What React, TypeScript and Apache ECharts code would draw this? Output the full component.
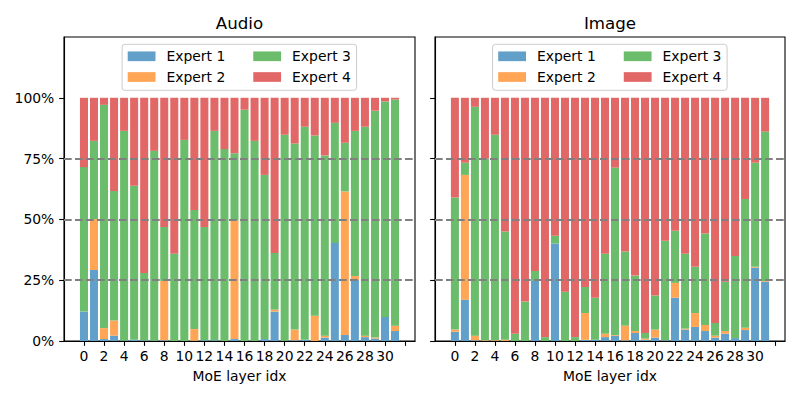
import React, { useEffect, useRef } from "react";
import * as echarts from "echarts";

const layers = [0, 1, 2, 3, 4, 5, 6, 7, 8, 9, 10, 11, 12, 13, 14, 15, 16, 17, 18, 19, 20, 21, 22, 23, 24, 25, 26, 27, 28, 29, 30, 31];
const expertNames = ["Expert 1", "Expert 2", "Expert 3", "Expert 4"];
const panelTitles = ["Audio", "Image"];

// Audio panel shares (%)
const audioE1 = [12.1, 29.2, 0.8, 2.2, 0.2, 0.5, 0.3, 0.1, 0.3, 0, 0, 0.1, 0.3, 0.3, 0, 0.8, 0, 0, 0.8, 12.1, 0.1, 0.3, 0.5, 0, 1.4, 40.3, 2.5, 25.1, 1.6, 1.0, 9.9, 4.1];
const audioE2 = [0, 20.9, 4.5, 6.2, 0, 0, 0, 0, 24.4, 0, 0, 4.8, 0, 0, 0, 48.7, 0, 0, 0, 0.8, 0, 4.4, 0, 10.4, 0.8, 0, 59.0, 1.6, 0.6, 0.4, 0, 2.2];
const audioE3 = [59.4, 32.2, 91.8, 53.3, 86.2, 63.3, 27.7, 78.1, 22.2, 35.9, 82.7, 49.0, 46.6, 86.1, 78.9, 27.7, 95.1, 82.3, 67.5, 23.3, 84.7, 76.5, 87.6, 74.1, 74.1, 49.4, 20.0, 59.7, 85.9, 93.3, 88.6, 93.0];
const audioE4 = [28.5, 17.7, 2.9, 38.3, 13.6, 36.2, 72.0, 21.8, 53.1, 64.1, 17.3, 46.1, 53.1, 13.6, 21.1, 22.8, 4.9, 17.7, 31.7, 63.8, 15.2, 18.8, 11.9, 15.5, 23.7, 10.3, 18.5, 13.6, 11.9, 5.3, 1.5, 0.7];

// Image panel shares (%)
const imageE1 = [3.8, 17.0, 0.3, 0, 0, 0, 0, 0, 24.7, 0, 40.1, 0, 0, 0.5, 0.5, 1.6, 2.2, 0.3, 3.3, 0.5, 1.4, 0.3, 17.8, 4.7, 5.8, 4.1, 1.4, 3.0, 1.2, 4.5, 30.2, 24.4];
const imageE2 = [0.9, 51.3, 1.9, 0.3, 0.3, 0.5, 0, 0, 0, 0, 0, 0, 0, 11.0, 0, 1.4, 0.3, 6.0, 0.8, 0.5, 3.3, 0, 6.1, 0.4, 5.7, 2.5, 0.8, 1.1, 0, 0.9, 0.3, 0.3];
const imageE3 = [54.3, 5.0, 94.1, 74.7, 84.5, 44.5, 3.0, 16.2, 4.1, 1.6, 3.2, 20.3, 1.6, 10.7, 17.3, 32.9, 68.8, 30.5, 22.8, 2.3, 14.0, 40.9, 21.4, 30.8, 19.0, 37.6, 5.2, 20.3, 33.8, 53.0, 42.8, 61.4];
const imageE4 = [41.0, 26.7, 3.7, 25.0, 15.2, 55.0, 97.0, 83.8, 71.2, 98.4, 56.7, 79.7, 98.4, 77.8, 82.2, 64.1, 28.7, 63.2, 73.1, 96.7, 81.3, 58.8, 54.7, 64.1, 69.5, 55.8, 92.6, 75.6, 65.0, 41.6, 26.7, 13.9];

const xTickValues = [0, 2, 4, 6, 8, 10, 12, 14, 16, 18, 20, 22, 24, 26, 28, 30, 32];
const xLabelValues = [0, 2, 4, 6, 8, 10, 12, 14, 16, 18, 20, 22, 24, 26, 28, 30];
const yTickValues = [0, 25, 50, 75, 100];
const refLines = [25, 50, 75];

const colors = ["#62a0ca", "#ffa556", "#6bbc6b", "#e26868"];
const FONT = "DejaVu Sans";

export default function App() {
  const ref = useRef<HTMLDivElement>(null);
  useEffect(() => {
    if (!ref.current) return;
    const chart = echarts.init(ref.current, null, { renderer: "svg" });
    const panels = [
      [audioE1, audioE2, audioE3, audioE4],
      [imageE1, imageE2, imageE3, imageE4],
    ];
    const gridBoxes = [
      { left: 64, top: 37, width: 351, height: 304 },
      { left: 435, top: 37, width: 350, height: 304 },
    ];
    const series: any[] = [];
    panels.forEach((arrs, g) => {
      arrs.forEach((arr, k) => {
        const s: any = {
          type: "bar",
          name: expertNames[k],
          xAxisIndex: g,
          yAxisIndex: g,
          stack: "panel" + g,
          barWidth: 8.03,
          // value first so that the stacked dimension is the y value
          data: layers.map((x, i) => [arr[i], x]),
          encode: { x: 1, y: 0 },
          itemStyle: { color: colors[k] },
          emphasis: { disabled: true },
          silent: true,
        };
        if (k === 3) {
          s.markLine = {
            silent: true,
            symbol: ["none", "none"],
            label: { show: false },
            lineStyle: { color: "#808080", type: [7.7, 3.3], width: 2.1 },
            emphasis: { disabled: true },
            data: refLines.map((v) => ({ yAxis: v })),
            z: 10,
          };
        }
        series.push(s);
      });
    });

    const legendCommon = {
      orient: "horizontal",
      padding: 0,
      itemWidth: 27.8,
      itemHeight: 9.7,
      itemGap: 28,
      icon: "rect",
      selectedMode: false,
      textStyle: { fontFamily: FONT, fontSize: 13.9, color: "#000", lineHeight: 14, padding: [0, 0, 0, 6] },
    };
    const legends: any[] = [];
    gridBoxes.forEach((gb) => {
      const cx = gb.left + gb.width / 2;
      const lx = cx - 111.8;
      legends.push({ ...legendCommon, left: lx, top: 49.3, data: [expertNames[0], expertNames[2]] });
      legends.push({ ...legendCommon, left: lx, top: 70, data: [expertNames[1], expertNames[3]] });
    });

    const graphics: any[] = [];
    gridBoxes.forEach((gb, g) => {
      const cx = gb.left + gb.width / 2;
      graphics.push({
        type: "rect",
        z: 1,
        shape: { x: cx - 117.4, y: 44.3, width: 234.5, height: 46, r: 2.8 },
        style: { fill: "rgba(255,255,255,0.8)", stroke: "#cccccc", lineWidth: 1 },
      });
      graphics.push({
        type: "text",
        x: cx,
        y: 23.5,
        style: { text: panelTitles[g], font: `16.67px "${FONT}"`, fill: "#000", align: "center", verticalAlign: "middle" },
      });
    });

    chart.setOption({
      animation: false,
      textStyle: { fontFamily: FONT },
      grid: gridBoxes.map((gb) => ({ ...gb, show: true, borderColor: "#000", borderWidth: 1.1, backgroundColor: "transparent", containLabel: false })),
      xAxis: gridBoxes.map((_, g) => ({
        type: "value",
        gridIndex: g,
        min: -1.99,
        max: 32.99,
        z: 5,
        name: "MoE layer idx",
        nameLocation: "middle",
        nameGap: 28,
        nameTextStyle: { fontFamily: FONT, fontSize: 13.9, color: "#000" },
        axisLine: { show: true, onZero: false, lineStyle: { color: "#000", width: 1.1 } },
        axisTick: { show: true, length: 4.86, lineStyle: { color: "#000", width: 1.1 }, customValues: xTickValues },
        axisLabel: { show: true, margin: 8, fontFamily: FONT, fontSize: 13.9, color: "#000", customValues: xLabelValues, formatter: (v: number) => String(v) },
        splitLine: { show: false },
      })),
      yAxis: gridBoxes.map((_, g) => ({
        type: "value",
        gridIndex: g,
        min: 0,
        max: 125,
        z: 5,
        axisLine: { show: true, onZero: false, lineStyle: { color: "#000", width: 1.1 } },
        axisTick: { show: true, length: 4.86, lineStyle: { color: "#000", width: 1.1 }, customValues: yTickValues },
        axisLabel: { show: g === 0, margin: 9.7, fontFamily: FONT, fontSize: 13.9, color: "#000", customValues: yTickValues, formatter: (v: number) => v + "%" },
        splitLine: { show: false },
      })),
      legend: legends,
      graphic: graphics,
      series,
    });
    return () => chart.dispose();
  }, []);
  return <div ref={ref} style={{ position: "fixed", left: 0, top: 0, width: 800, height: 400, background: "#fff" }} />;
}
